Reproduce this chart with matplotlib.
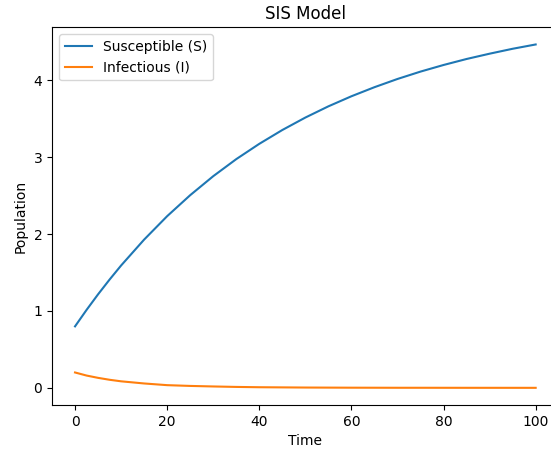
import matplotlib
matplotlib.use("Agg")
from matplotlib import pyplot as plt

# values
time = [0, 2.5, 5, 7.5, 10, 15, 20, 25, 30, 35, 40, 45, 50,
        55, 60, 65, 70, 75, 80, 85, 90, 95, 100]
susceptible = [0.800, 1.014, 1.217, 1.409, 1.592, 1.929, 2.234, 2.507,
               2.754, 2.976, 3.175, 3.355, 3.517, 3.663, 3.794, 3.912,
               4.019, 4.115, 4.201, 4.279, 4.348, 4.412, 4.468]
infectious = [0.200, 0.160, 0.130, 0.105, 0.085, 0.057, 0.035, 0.025,
              0.018, 0.012, 0.008, 0.006, 0.004, 0.003, 0.002, 0.0015,
              0.001, 0.001, 0.0007, 0.0005, 0.0004, 0.0003, 0.0002]

fig = plt.figure(figsize=(5.51, 4.54), dpi=100)
ax = fig.add_axes([52 / 551, 49 / 454, 506.7 / 551, 377.7 / 454])

ax.plot(time, susceptible, label="Susceptible (S)")
ax.plot(time, infectious, label="Infectious (I)")

ax.set_title("SIS Model")
ax.set_xlabel("Time")
ax.set_ylabel("Population")
ax.legend(loc="upper left")

fig.savefig("out.png", dpi=100)
